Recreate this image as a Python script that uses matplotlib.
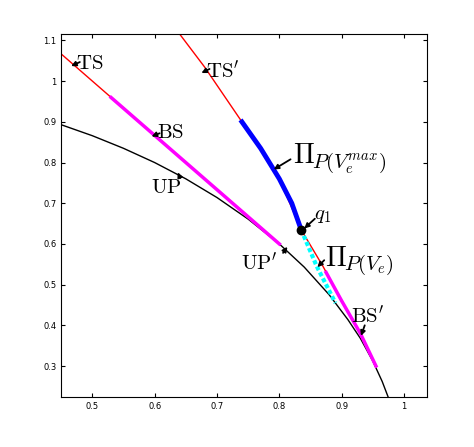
import matplotlib
matplotlib.use("Agg")
import matplotlib.pyplot as plt

plt.rcParams['mathtext.fontset'] = 'cm'

# UP (black boundary)
up_x = [0.45, 0.50, 0.55, 0.60, 0.65, 0.70, 0.75, 0.80, 0.84, 0.88, 0.91, 0.93, 0.95, 0.965, 0.975]
up_y = [0.893, 0.866, 0.835, 0.800, 0.760, 0.714, 0.661, 0.600, 0.543, 0.475, 0.414, 0.368, 0.312, 0.262, 0.222]
# TS (red straight line)
ts_x = [0.45, 0.80]
ts_y = [1.067, 0.600]
# BS (magenta part of TS)
bs_x = [0.53, 0.80]
bs_y = [0.960, 0.600]
# TS' (red curve)
tsp_x = [0.64, 0.68, 0.72, 0.74, 0.77, 0.80, 0.835, 0.87, 0.90, 0.93, 0.955]
tsp_y = [1.116, 1.035, 0.945, 0.900, 0.835, 0.760, 0.635, 0.545, 0.460, 0.380, 0.300]
# Pi_P(Ve^max) (blue)
pmax_x = [0.74, 0.77, 0.80, 0.82, 0.835]
pmax_y = [0.900, 0.835, 0.760, 0.700, 0.635]
# Pi_P(Ve) (cyan)
pve_x = [0.835, 0.86, 0.89]
pve_y = [0.635, 0.545, 0.455]
# BS' (magenta)
bsp_x = [0.875, 0.90, 0.93, 0.955]
bsp_y = [0.530, 0.460, 0.380, 0.300]
q1 = (0.835, 0.635)

fig = plt.figure(figsize=(4.74, 4.47), dpi=100)
ax = fig.add_axes([0.129, 0.112, 0.772, 0.812])
ax.plot(up_x, up_y, color='black', lw=1)
ax.plot(ts_x, ts_y, color='red', lw=1)
ax.plot(tsp_x, tsp_y, color='red', lw=1)
ax.plot(bs_x, bs_y, color='magenta', lw=2.5)
ax.plot(bsp_x, bsp_y, color='magenta', lw=2.5)
ax.plot(pmax_x, pmax_y, color='blue', lw=3.5)
ax.plot(pve_x, pve_y, color='cyan', lw=3, ls=(0, (1, 0.6)))
ax.plot(*q1, 'o', color='black', ms=6)

ax.set_xlim(0.45, 1.037)
ax.set_ylim(0.224, 1.116)
ax.set_xticks([0.5, 0.6, 0.7, 0.8, 0.9, 1])
ax.set_xticklabels(['0.5', '0.6', '0.7', '0.8', '0.9', '1'])
ax.set_yticks([0.3, 0.4, 0.5, 0.6, 0.7, 0.8, 0.9, 1, 1.1])
ax.set_yticklabels(['0.3', '0.4', '0.5', '0.6', '0.7', '0.8', '0.9', '1', '1.1'])
ax.tick_params(direction='in', top=True, right=True, labelsize=6, length=3)

# (label, text position, arrow start, arrow tip)
ann = [
    (r'$\mathrm{TS}$', (0.474, 1.045), (0.480, 1.047), (0.466, 1.037)),
    (r"$\mathrm{TS'}$", (0.683, 1.025), (0.688, 1.030), (0.675, 1.020)),
    (r'$\mathrm{BS}$', (0.603, 0.875), (0.608, 0.872), (0.595, 0.864)),
    (r'$\mathrm{UP}$', (0.594, 0.740), (0.641, 0.762), (0.637, 0.776)),
    (r"$\mathrm{UP'}$", (0.738, 0.555), (0.806, 0.578), (0.813, 0.593)),
    (r'$q_1$', (0.856, 0.672), (0.857, 0.662), (0.840, 0.638)),
    (r"$\mathrm{BS'}$", (0.915, 0.425), (0.937, 0.400), (0.931, 0.374)),
]
for txt, pos, start, tip in ann:
    ax.text(*pos, txt, fontsize=15, va='center', ha='left')
    ax.annotate('', xy=tip, xytext=start,
                arrowprops=dict(arrowstyle='-|>', color='black', lw=1.3,
                                mutation_scale=7, shrinkA=0, shrinkB=0))

# Pi labels with large subscripts
ax.text(0.822, 0.818, r'$\Pi$', fontsize=20, va='center', ha='left')
ax.text(0.852, 0.800, r'$P(V_e^{max})$', fontsize=15, va='center', ha='left')
ax.annotate('', xy=(0.791, 0.783), xytext=(0.818, 0.808),
            arrowprops=dict(arrowstyle='-|>', color='black', lw=1.3,
                            mutation_scale=7, shrinkA=0, shrinkB=0))
ax.text(0.874, 0.565, r'$\Pi$', fontsize=20, va='center', ha='left')
ax.text(0.904, 0.548, r'$P(V_e)$', fontsize=15, va='center', ha='left')
ax.annotate('', xy=(0.861, 0.543), xytext=(0.872, 0.560),
            arrowprops=dict(arrowstyle='-|>', color='black', lw=1.3,
                            mutation_scale=7, shrinkA=0, shrinkB=0))

fig.savefig('out.png', dpi=100)
